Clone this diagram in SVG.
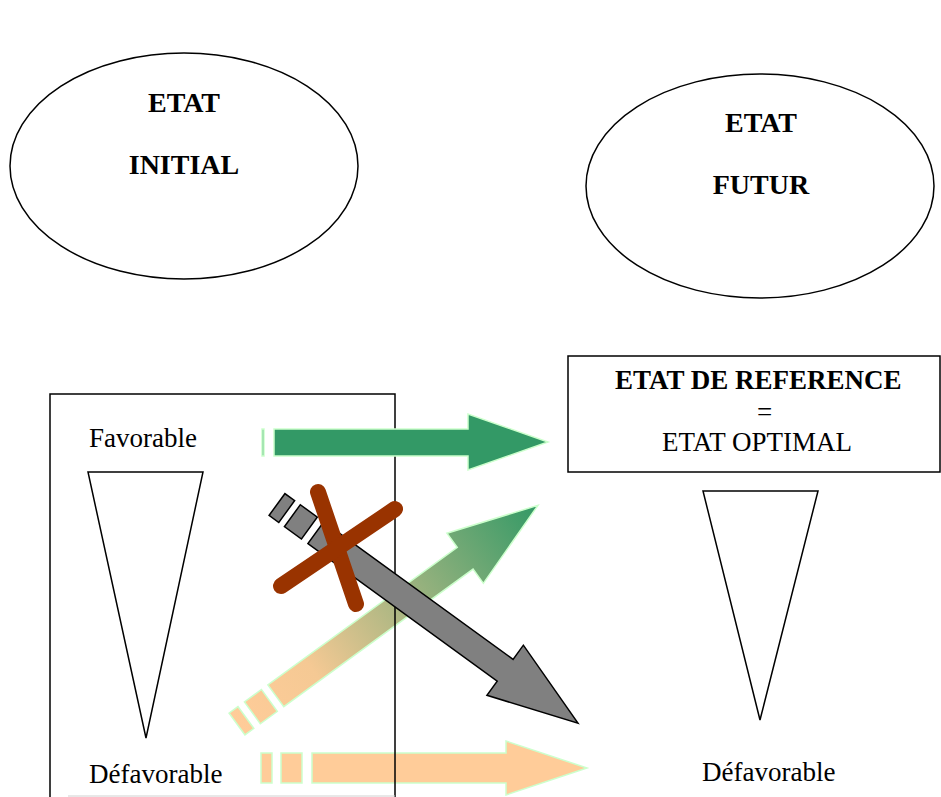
<svg xmlns="http://www.w3.org/2000/svg" width="941" height="797" viewBox="0 0 941 797">
<style>
.ol{fill:#fff;stroke:#000;stroke-width:1.5}
.nb{fill:none;stroke:#000;stroke-width:1.5}
.t{font-family:"Liberation Serif","Times New Roman",serif;font-size:27px;fill:#000}
.b{font-weight:bold}
.e{font-size:28px}
.c{text-anchor:middle}
.peach{fill:#FFCC99;stroke:#CCFFCC;stroke-width:1.5}
.green{fill:#339966;stroke:#CCFFCC;stroke-width:1.5}
.grad{fill:url(#g1);stroke:#CCFFCC;stroke-width:1.5}
.gray{fill:#808080;stroke:#000;stroke-width:1.5}
.x{stroke:#993300;stroke-width:16;stroke-linecap:round;fill:none}
</style>
<defs>
<linearGradient id="g1" gradientUnits="userSpaceOnUse" x1="0" y1="0" x2="372" y2="0">
<stop offset="0" stop-color="#FFCC99"/>
<stop offset="0.25" stop-color="#F5C994"/>
<stop offset="1" stop-color="#339966"/>
</linearGradient>
</defs>
<rect width="941" height="797" fill="#fff"/>
<g id="etat-initial">
<ellipse class="ol" cx="184" cy="166" rx="174" ry="113"/>
<text class="t b e c" x="184" y="112">ETAT</text>
<text class="t b e c" x="184" y="174">INITIAL</text>
</g>
<g id="etat-futur">
<ellipse class="ol" cx="760" cy="186" rx="174" ry="112"/>
<text class="t b e c" x="761" y="132">ETAT</text>
<text class="t b e c" x="761" y="194">FUTUR</text>
</g>
<g id="connectors-under">
<g transform="translate(237,724) rotate(-36)">
<rect class="grad" x="0" y="-13.5" width="11" height="27"/>
<rect class="grad" x="19" y="-13.5" width="21" height="27"/>
<polygon class="grad" points="48,-13.5 282,-13.5 282,-31 372,0 282,31 282,13.5 48,13.5"/>
</g>
<rect class="peach" x="261" y="753" width="11" height="30"/>
<rect class="peach" x="281" y="753" width="21" height="30"/>
<polygon class="peach" points="312,753 506,753 506,741 587,768 506,795 506,783 312,783"/>
</g>
<g id="etat-actuel">
<rect class="nb" x="50" y="394" width="345" height="420"/>
<line x1="68" y1="796" x2="395" y2="796" stroke="#d0d0d0" stroke-width="1"/>
<text class="t" x="89" y="447">Favorable</text>
<polygon class="ol" points="88,472 203,472 146,738"/>
<text class="t" x="89" y="783">Défavorable</text>
</g>
<g id="etat-reference">
<rect class="nb" x="568" y="356" width="372" height="116"/>
<text class="t b" x="615" y="389">ETAT DE REFERENCE</text>
<text class="t" x="757" y="421">=</text>
<text class="t" x="662" y="451">ETAT OPTIMAL</text>
<polygon class="ol" points="703,491 818,491 760,720"/>
<text class="t" x="702" y="781">Défavorable</text>
</g>
<g id="connectors">
<rect class="green" x="262" y="429" width="2" height="27"/>
<polygon class="green" points="274,429 468,429 468,414 548,442 468,470 468,456 274,456"/>
<g transform="translate(277,504.5) rotate(36)">
<rect class="gray" x="0" y="-13.5" width="12" height="27"/>
<rect class="gray" x="19" y="-13.5" width="21" height="27"/>
<polygon class="gray" points="48,-13.5 282,-13.5 282,-31 372,0 282,31 282,13.5 48,13.5"/>
</g>
<line class="x" x1="318" y1="492" x2="356" y2="604"/>
<line class="x" x1="395" y1="509" x2="281" y2="586"/>
</g>
</svg>
